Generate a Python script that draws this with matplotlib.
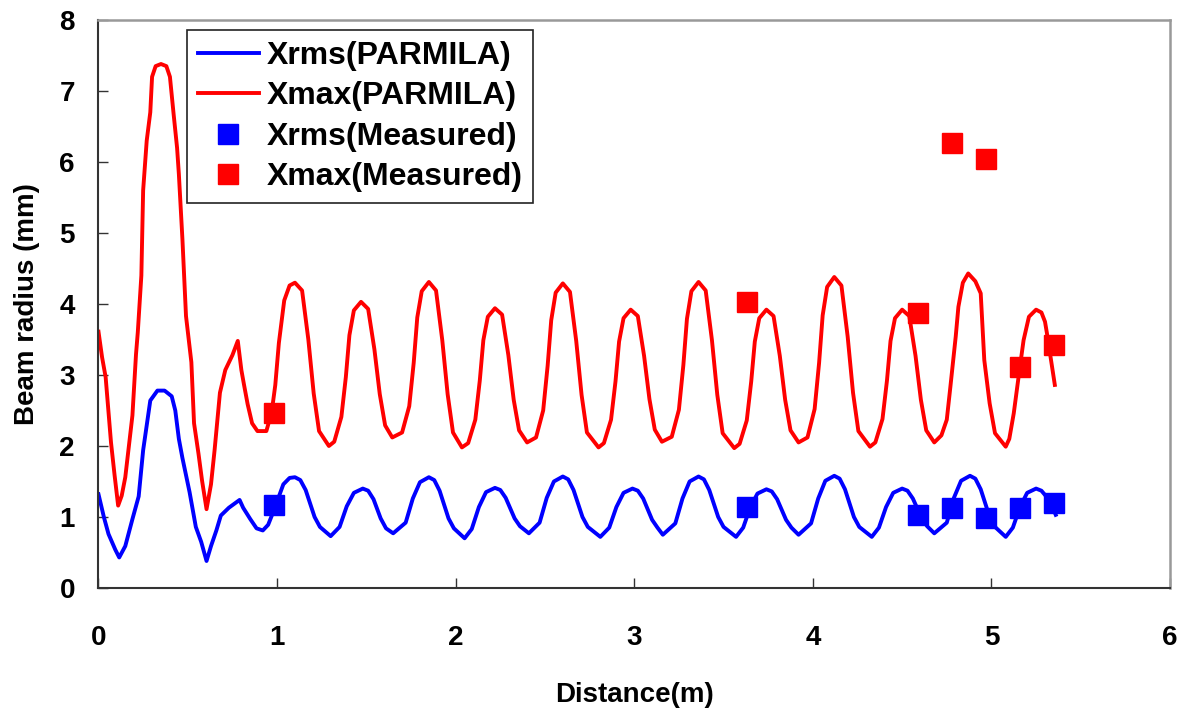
import numpy as np
import matplotlib.pyplot as plt

plt.rcParams['font.family'] = ['Liberation Sans', 'DejaVu Sans']
plt.rcParams['font.weight'] = 'bold'

# PARMILA simulation, Xmax (mm) vs distance (m)
xmax_sim_x = [0.00, 0.02, 0.04, 0.07, 0.09, 0.11, 0.13, 0.15, 0.17, 0.19, 0.21, 0.22, 0.24, 0.25,
              0.27, 0.29, 0.30, 0.32, 0.35, 0.38, 0.40, 0.42, 0.44, 0.45, 0.47, 0.49, 0.52, 0.535,
              0.56, 0.58, 0.605, 0.63, 0.65, 0.68, 0.71, 0.75, 0.78, 0.80, 0.815, 0.835, 0.86, 0.89,
              0.94, 0.97, 0.99, 1.01, 1.04, 1.07, 1.10,
              1.14, 1.175, 1.205, 1.235, 1.29,
              1.32, 1.36, 1.385, 1.405, 1.43, 1.47, 1.51, 1.545, 1.575, 1.605, 1.645,
              1.70, 1.74, 1.765, 1.785, 1.81, 1.85, 1.89, 1.925, 1.955, 1.985, 2.035,
              2.07, 2.11, 2.135, 2.155, 2.18, 2.22, 2.26, 2.295, 2.325, 2.355, 2.40,
              2.45, 2.49, 2.515, 2.535, 2.56, 2.60, 2.64, 2.675, 2.705, 2.735, 2.80,
              2.83, 2.87, 2.895, 2.915, 2.94, 2.98, 3.02, 3.055, 3.085, 3.115, 3.155,
              3.21, 3.25, 3.275, 3.295, 3.32, 3.36, 3.40, 3.435, 3.465, 3.495, 3.56,
              3.59, 3.63, 3.655, 3.675, 3.70, 3.74, 3.78, 3.815, 3.845, 3.875, 3.92,
              3.97, 4.01, 4.035, 4.055, 4.08, 4.12, 4.16, 4.195, 4.225, 4.255, 4.32,
              4.35, 4.39, 4.415, 4.435, 4.46, 4.50, 4.54, 4.575, 4.605, 4.635, 4.68,
              4.72, 4.75, 4.77, 4.80, 4.815, 4.84, 4.87, 4.91, 4.94, 4.96, 4.99, 5.02, 5.08,
              5.10, 5.125, 5.155, 5.18, 5.21, 5.25, 5.28, 5.30, 5.31, 5.355]
xmax_sim_y = [3.61, 3.25, 2.97, 2.05, 1.59, 1.16, 1.30, 1.56, 2.00, 2.43, 3.29, 3.60, 4.40, 5.60,
              6.30, 6.70, 7.20, 7.35, 7.38, 7.35, 7.20, 6.69, 6.20, 5.83, 4.91, 3.83, 3.18, 2.32,
              1.89, 1.51, 1.11, 1.46, 1.94, 2.75, 3.07, 3.28, 3.48, 3.07, 2.86, 2.59, 2.32, 2.21,
              2.21, 2.48, 2.86, 3.45, 4.05, 4.26, 4.30,
              4.19, 3.50, 2.74, 2.21, 2.00,
              2.06, 2.41, 2.97, 3.56, 3.91, 4.03, 3.93, 3.36, 2.73, 2.29, 2.12,
              2.19, 2.56, 3.17, 3.81, 4.18, 4.31, 4.19, 3.49, 2.73, 2.19, 1.98,
              2.04, 2.37, 2.92, 3.49, 3.82, 3.94, 3.85, 3.28, 2.65, 2.22, 2.05,
              2.12, 2.50, 3.13, 3.77, 4.16, 4.29, 4.17, 3.48, 2.72, 2.19, 1.98,
              2.04, 2.37, 2.91, 3.47, 3.80, 3.92, 3.83, 3.27, 2.66, 2.23, 2.06,
              2.13, 2.51, 3.14, 3.79, 4.18, 4.31, 4.19, 3.49, 2.72, 2.18, 1.97,
              2.03, 2.36, 2.91, 3.47, 3.80, 3.92, 3.83, 3.27, 2.65, 2.22, 2.05,
              2.12, 2.52, 3.17, 3.84, 4.24, 4.38, 4.26, 3.54, 2.75, 2.21, 1.99,
              2.05, 2.38, 2.92, 3.48, 3.80, 3.92, 3.83, 3.27, 2.65, 2.22, 2.05,
              2.15, 2.37, 2.83, 3.54, 3.96, 4.30, 4.43, 4.32, 4.15, 3.21, 2.60, 2.18, 1.99,
              2.10, 2.46, 3.03, 3.49, 3.82, 3.92, 3.88, 3.75, 3.60, 2.86]

# PARMILA simulation, Xrms (mm) vs distance (m)
xrms_sim_x = [0.00, 0.03, 0.056, 0.094, 0.116, 0.15, 0.19, 0.225, 0.25, 0.29, 0.33, 0.37, 0.41,
              0.43, 0.45, 0.47, 0.51, 0.545, 0.575, 0.605, 0.63, 0.66, 0.685, 0.73, 0.79, 0.81,
              0.85, 0.885, 0.92, 0.95, 0.98, 1.035, 1.07, 1.10,
              1.13, 1.16, 1.21, 1.24, 1.30,
              1.35, 1.39, 1.43, 1.48, 1.51, 1.54, 1.58, 1.61, 1.65,
              1.72, 1.76, 1.80, 1.85, 1.88, 1.91, 1.96, 1.99, 2.05,
              2.09, 2.13, 2.17, 2.22, 2.25, 2.28, 2.33, 2.36, 2.41,
              2.47, 2.51, 2.55, 2.60, 2.63, 2.66, 2.71, 2.74, 2.81,
              2.86, 2.90, 2.94, 2.99, 3.02, 3.05, 3.10, 3.13, 3.16,
              3.23, 3.27, 3.31, 3.36, 3.39, 3.42, 3.47, 3.50, 3.57,
              3.61, 3.65, 3.69, 3.74, 3.77, 3.80, 3.85, 3.88, 3.92,
              3.99, 4.03, 4.07, 4.12, 4.15, 4.18, 4.23, 4.26, 4.33,
              4.37, 4.41, 4.45, 4.50, 4.53, 4.56, 4.61, 4.64, 4.68,
              4.75, 4.79, 4.83, 4.88, 4.91, 4.94, 4.99, 5.02, 5.08,
              5.12, 5.16, 5.20, 5.25, 5.28, 5.31, 5.34, 5.36]
xrms_sim_y = [1.32, 1.00, 0.76, 0.54, 0.43, 0.59, 0.97, 1.29, 1.94, 2.64, 2.78, 2.78, 2.70,
              2.50, 2.10, 1.83, 1.35, 0.86, 0.65, 0.38, 0.59, 0.81, 1.02, 1.13, 1.24, 1.13,
              0.97, 0.84, 0.81, 0.89, 1.08, 1.46, 1.55, 1.56,
              1.52, 1.38, 1.00, 0.86, 0.73,
              0.86, 1.15, 1.34, 1.40, 1.37, 1.25, 0.98, 0.84, 0.77,
              0.92, 1.26, 1.49, 1.56, 1.52, 1.37, 0.98, 0.84, 0.70,
              0.83, 1.14, 1.35, 1.41, 1.38, 1.27, 0.98, 0.87, 0.77,
              0.92, 1.27, 1.50, 1.57, 1.53, 1.38, 1.00, 0.86, 0.72,
              0.85, 1.14, 1.34, 1.40, 1.37, 1.26, 0.96, 0.85, 0.75,
              0.91, 1.26, 1.50, 1.57, 1.53, 1.38, 1.00, 0.86, 0.72,
              0.85, 1.14, 1.33, 1.39, 1.36, 1.25, 0.96, 0.85, 0.75,
              0.91, 1.26, 1.51, 1.58, 1.54, 1.39, 1.00, 0.86, 0.72,
              0.85, 1.14, 1.34, 1.40, 1.37, 1.26, 0.98, 0.87, 0.77,
              0.92, 1.27, 1.51, 1.58, 1.54, 1.39, 1.00, 0.86, 0.72,
              0.85, 1.14, 1.34, 1.40, 1.37, 1.28, 1.15, 1.03]

# measured points
meas_x = [0.98, 3.63, 4.59, 4.78, 4.97, 5.16, 5.35]
xrms_meas = [1.17, 1.14, 1.03, 1.12, 0.98, 1.12, 1.20]
xmax_meas = [2.46, 4.03, 3.87, 6.27, 6.04, 3.11, 3.42]

fig = plt.figure(figsize=(11.81, 7.09), dpi=100)
ax = fig.add_axes([0.0834, 0.1707, 0.9073, 0.8011])

ax.plot(xrms_sim_x, xrms_sim_y, color='#0000ff', lw=2.8, label='Xrms(PARMILA)')
ax.plot(xmax_sim_x, xmax_sim_y, color='#ff0000', lw=2.8, label='Xmax(PARMILA)')
ax.plot(meas_x, xrms_meas, 's', color='#0000ff', ms=14, ls='none', label='Xrms(Measured)')
ax.plot(meas_x, xmax_meas, 's', color='#ff0000', ms=14, ls='none', label='Xmax(Measured)')

ax.set_xlim(0, 6)
ax.set_ylim(0, 8)
ax.set_xticks(range(0, 7))
ax.set_yticks(range(0, 9))
ax.tick_params(direction='in', length=7, width=1, labelsize=20, color='#333333')
ax.tick_params(axis='x', pad=27)
ax.tick_params(axis='y', pad=17)
for lab in ax.get_xticklabels() + ax.get_yticklabels():
    lab.set_fontweight('bold')

for s in ['left', 'bottom']:
    ax.spines[s].set_color('#333333')
    ax.spines[s].set_linewidth(1.5)
for s in ['top', 'right']:
    ax.spines[s].set_color('#999999')
    ax.spines[s].set_linewidth(1.8)

ax.set_xlabel('Distance(m)', fontsize=20, fontweight='bold')
ax.set_ylabel('Beam radius (mm)', fontsize=20, fontweight='bold')
ax.xaxis.set_label_coords(0.5, -0.165)
ax.yaxis.set_label_coords(-0.055, 0.5)

leg = ax.legend(loc='upper left', bbox_to_anchor=(0.083, 0.982), borderaxespad=0,
                fancybox=False, edgecolor='#222222', framealpha=1, fontsize=23,
                handlelength=1.9, handletextpad=0.25, labelspacing=0.33, borderpad=0.33)
leg.get_frame().set_linewidth(1.2)
for t in leg.get_texts():
    t.set_fontweight('bold')

fig.savefig('out.png', dpi=100)
